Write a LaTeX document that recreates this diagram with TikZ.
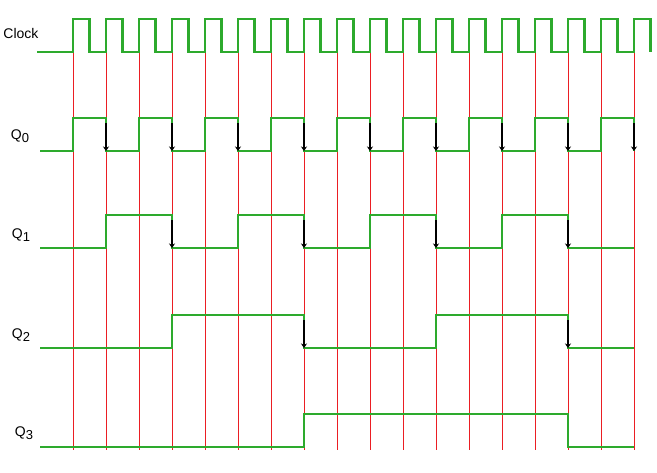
\documentclass[tikz,border=0pt]{standalone}
\usepackage{fontspec}
\setmainfont{Liberation Sans}
\usetikzlibrary{arrows.meta}
\definecolor{sigcol}{RGB}{45,170,45}
\definecolor{clkcol}{RGB}{235,30,35}
\newcommand{\qlab}[1]{Q\raisebox{-0.45ex}{\fontsize{13}{15}\selectfont #1}}
\begin{document}
\begin{tikzpicture}[x=1pt, y=-1pt,
    every node/.style={font=\fontsize{14}{16}\selectfont},
    sig/.style={line width=2.2pt, draw=sigcol, line join=miter},
    tick/.style={line width=0.9pt, draw=clkcol},
    fall/.style={line width=1.1pt, -{Stealth[length=4.5pt,width=6pt]}}]
  \useasboundingbox (0,0) rectangle (657,472);

  % clock edges
  \foreach \i in {0,...,17}
    \draw[tick] ({73+33*\i},19) -- ({73+33*\i},450);

  % labels
  \node (clk) at (21,33) {Clock};
  \node (q0) at (20,136) {\qlab{0}};
  \node (q1) at (21,235) {\qlab{1}};
  \node (q2) at (21,335) {\qlab{2}};
  \node (q3) at (24,433) {\qlab{3}};

  % clock
  \draw[sig] (37,52) \foreach \i in {0,...,17} {
    -- ({73+33*\i},52) -- ({73+33*\i},19) -- ({89.5+33*\i},19) -- ({89.5+33*\i},52)};

  % Q0
  \draw[sig] (40,151) \foreach \i in {0,...,8} {
    -- ({73+66*\i},151) -- ({73+66*\i},118) -- ({106+66*\i},118) -- ({106+66*\i},151)};
  \foreach \i in {0,...,8}
    \draw[fall] ({106+66*\i},123) -- ({106+66*\i},151);

  % Q1
  \draw[sig] (40,248) \foreach \i in {0,...,3} {
    -- ({106+132*\i},248) -- ({106+132*\i},215) -- ({172+132*\i},215) -- ({172+132*\i},248)}
    -- (634,248);
  \foreach \i in {0,...,3}
    \draw[fall] ({172+132*\i},220) -- ({172+132*\i},248);

  % Q2
  \draw[sig] (40,348) -- (172,348) -- (172,315) -- (304,315) -- (304,348)
    -- (436,348) -- (436,315) -- (568,315) -- (568,348) -- (634,348);
  \foreach \x in {304,568}
    \draw[fall] (\x,320) -- (\x,348);

  % Q3
  \draw[sig] (40,447) -- (304,447) -- (304,414) -- (568,414) -- (568,447) -- (634,447);
\end{tikzpicture}
\end{document}
